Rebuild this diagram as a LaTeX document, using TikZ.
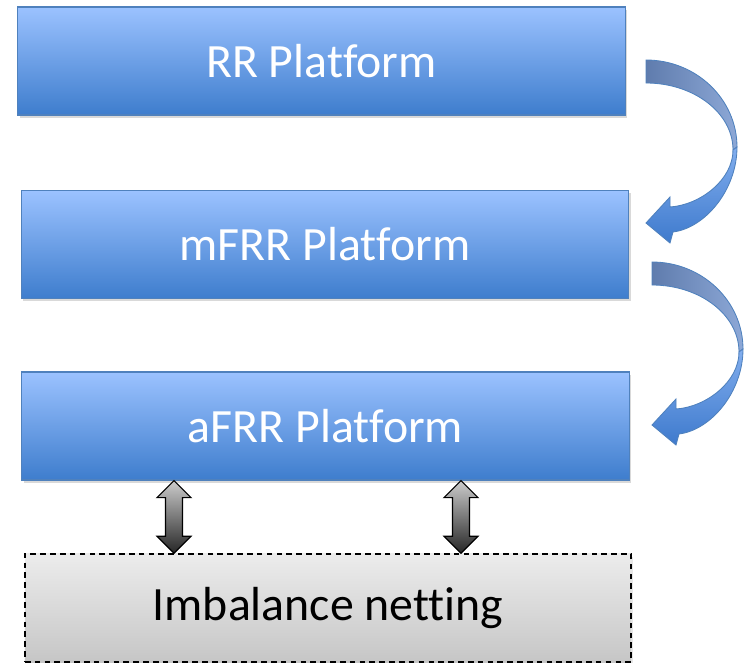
\documentclass[tikz,border=0pt]{standalone}
\usepackage{fontspec}
\setmainfont[Ligatures={NoCommon}]{Carlito}
\usetikzlibrary{arrows.meta,positioning,calc,shadows}
\definecolor{platTop}{RGB}{155,194,255}
\definecolor{platBot}{RGB}{62,125,205}
\definecolor{platEdge}{RGB}{79,129,189}
\definecolor{netTop}{RGB}{236,236,236}
\definecolor{netBot}{RGB}{198,198,198}
\definecolor{bendBack}{RGB}{112,146,204}
\definecolor{bendTop}{RGB}{130,174,238}
\definecolor{bendBot}{RGB}{62,122,205}
\tikzset{
  platbox/.style={rectangle, draw=platEdge, line width=0.8pt,
    top color=platTop, bottom color=platBot, text=white,
    font=\fontsize{34}{40}\selectfont,
    minimum width=15.18cm, minimum height=2.7cm,
    drop shadow={opacity=0.3, shadow xshift=1.5pt, shadow yshift=-2pt}},
  netbox/.style={rectangle, draw=black, line width=1pt,
    dash pattern=on 4pt off 3pt,
    top color=netTop, bottom color=netBot, text=black,
    font=\fontsize{34}{40}\selectfont,
    minimum width=15.15cm, minimum height=2.7cm,
    drop shadow={opacity=0.2, shadow xshift=1.5pt, shadow yshift=-2pt}},
  updown/.style={draw=black, line width=0.8pt, line join=miter,
    top color=gray!40, bottom color=black!85},
  bendback/.style={draw=platEdge, line width=0.6pt,
    left color=bendBack!85!black, right color=bendBack!80!white},
  bendfront/.style={draw=platEdge, line width=0.6pt,
    top color=bendTop, bottom color=bendBot},
  bendarrow/.pic={
    % back face, from the tail to the twist
    \path[bendback] (0,0) .. controls (50,0) and (91,39) .. (91,87)
      -- (87,90) .. controls (87,53) and (48,23) .. (0,23) -- cycle;
    % front face with the head
    \path[bendfront] (91,87) .. controls (91,130) and (59,168) .. (27,172)
      -- (24,183) -- (0,163) -- (24,137) -- (24,147)
      .. controls (54,145) and (87,120) .. (87,90) -- cycle;
  },
}
\newcommand{\dblarrow}[2]{%
  \path[updown] (#1) -- ++(17,17) -- ++(-8.5,0) -- ($(#2)+(8.5,-17)$)
    -- ++(8.5,0) -- (#2) -- ++(-17,-17) -- ++(8.5,0)
    -- ($(#1)+(-8.5,17)$) -- ++(-8.5,0) -- cycle;
}

\begin{document}
\begin{tikzpicture}[x=0.025cm, y=-0.025cm]
  \useasboundingbox (0,0) rectangle (744,663);
  % platforms
  \node[platbox] (rr) at (321.5,61) {RR Platform};
  \node[platbox] (mfrr) at (325,244.5) {mFRR Platform};
  \node[platbox] (afrr) at (325.5,426) {aFRR Platform};
  \node[netbox] (net) at (328,608) {Imbalance netting};
  % bent arrows on the right
  \pic at (646,60) {bendarrow};
  \pic at (652,262) {bendarrow};
  % exchange with the netting
  \coordinate (xa) at (174,0);
  \coordinate (xb) at (461,0);
  \dblarrow{afrr.south -| xa}{net.north -| xa}
  \dblarrow{afrr.south -| xb}{net.north -| xb}
\end{tikzpicture}
\end{document}
